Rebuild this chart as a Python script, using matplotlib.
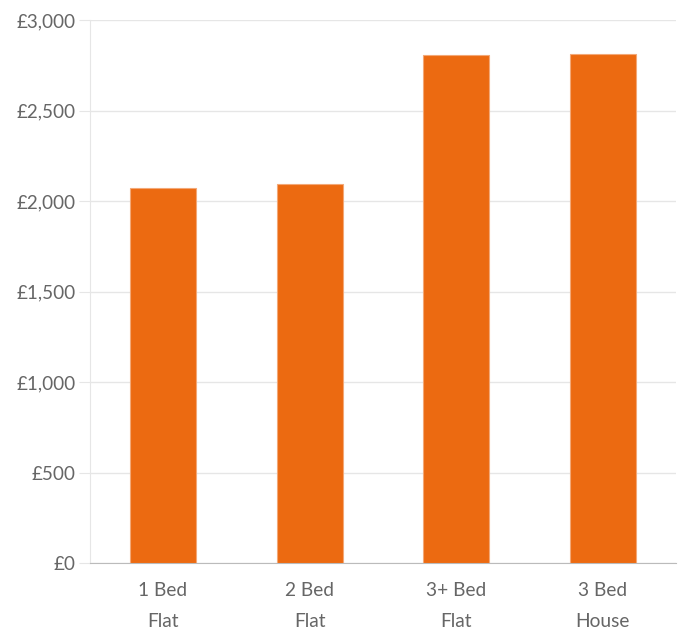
import matplotlib
matplotlib.use('Agg')
import matplotlib.pyplot as plt
from matplotlib.ticker import FuncFormatter

# data
categories = ['1 Bed\nFlat', '2 Bed\nFlat', '3+ Bed\nFlat', '3 Bed\nHouse']
rents = [2073, 2094, 2806, 2811]
yticks = [0, 500, 1000, 1500, 2000, 2500, 3000]

plt.rcParams['font.family'] = ['Lato', 'DejaVu Sans']

fig = plt.figure(figsize=(6.8, 6.28), dpi=100)
ax = fig.add_axes([0.132, 0.1035, 0.862, 0.8645])

x = range(len(categories))
ax.bar(x, rents, width=0.45, color='#EC6A11', edgecolor='#F3A877', linewidth=0.8, zorder=3)

ax.set_xlim(-0.5, len(categories) - 0.5)
ax.set_ylim(0, 3000)
ax.set_yticks(yticks)
ax.yaxis.set_major_formatter(FuncFormatter(lambda v, p: '£{:,.0f}'.format(v)))
ax.set_xticks(list(x))
ax.set_xticklabels(categories, linespacing=1.95, va='top')

ax.grid(axis='y', color='#E6E6E6', linewidth=1, zorder=0)
for s in ['top', 'right']:
    ax.spines[s].set_visible(False)
ax.spines['left'].set_color('#E6E6E6')
ax.spines['bottom'].set_color('#BBBBBB')
ax.tick_params(axis='y', length=8, color='#E6E6E6', labelsize=13.6, labelcolor='#666666', pad=2)
ax.tick_params(axis='x', length=0, labelsize=13.8, labelcolor='#666666', pad=14)

fig.savefig('out.png', dpi=100)
